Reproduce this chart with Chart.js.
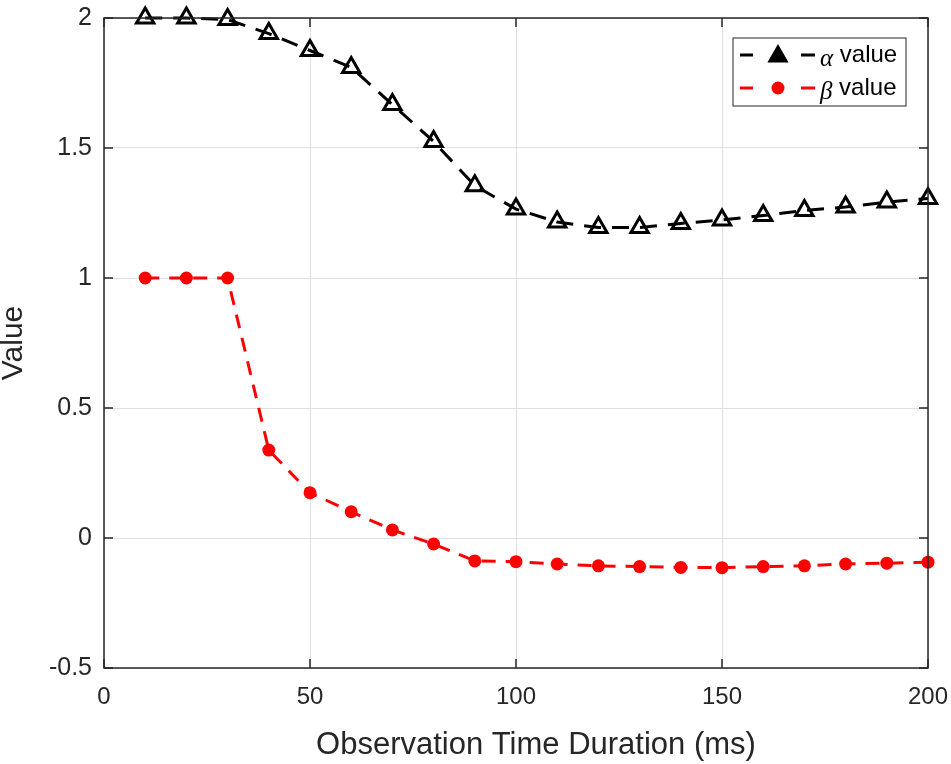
<!DOCTYPE html>
<html>
<head>
<meta charset="utf-8">
<script src="https://cdn.jsdelivr.net/npm/chart.js@4"></script>
<style>
  body { margin: 0; background: #fff; }
  #wrap { width: 951px; height: 764px; }
</style>
</head>
<body>
<div id="wrap"><canvas id="myChart" width="951" height="764"></canvas></div>
<script>
const durations = [10, 20, 30, 40, 50, 60, 70, 80, 90, 100, 110, 120, 130, 140, 150, 160, 170, 180, 190, 200];
const alphaValues = [2.0, 2.0, 1.994, 1.94, 1.875, 1.81, 1.667, 1.525, 1.355, 1.265, 1.215, 1.194, 1.194, 1.21, 1.223, 1.24, 1.26, 1.273, 1.292, 1.306];
const betaValues = [1.0, 1.0, 1.0, 0.338, 0.174, 0.101, 0.031, -0.023, -0.088, -0.091, -0.1, -0.107, -0.11, -0.113, -0.114, -0.11, -0.107, -0.1, -0.097, -0.093];
const xTicks = [0, 50, 100, 150, 200];
const yTicks = [-0.5, 0, 0.5, 1, 1.5, 2];
const xTitle = "Observation Time Duration (ms)";

const font = "'Liberation Sans', Arial, sans-serif";

const toPoints = (vals) => durations.map((d, i) => ({ x: d, y: vals[i] }));

// box, inward ticks, x title and legend drawn on top like in matlab
const framePlugin = {
  id: "frame",
  afterDatasetsDraw(chart) {
    const { ctx, chartArea: a, scales } = chart;
    ctx.save();
    ctx.strokeStyle = "#262626";
    ctx.lineWidth = 1.5;
    ctx.strokeRect(a.left, a.top, a.right - a.left, a.bottom - a.top);
    ctx.beginPath();
    xTicks.forEach((t) => {
      const px = scales.x.getPixelForValue(t);
      ctx.moveTo(px, a.bottom); ctx.lineTo(px, a.bottom - 9);
      ctx.moveTo(px, a.top); ctx.lineTo(px, a.top + 9);
    });
    yTicks.forEach((t) => {
      const py = scales.y.getPixelForValue(t);
      ctx.moveTo(a.left, py); ctx.lineTo(a.left + 9, py);
      ctx.moveTo(a.right, py); ctx.lineTo(a.right - 9, py);
    });
    ctx.stroke();

    ctx.fillStyle = "#262626";
    ctx.font = "31px " + font;
    ctx.textAlign = "center";
    ctx.textBaseline = "middle";
    ctx.fillText(xTitle, 536, 745);

    // legend
    const lx = 733, ly = 38, lw = 173, lh = 68;
    ctx.fillStyle = "#fff";
    ctx.fillRect(lx, ly, lw, lh);
    ctx.strokeStyle = "#262626";
    ctx.lineWidth = 1;
    ctx.strokeRect(lx, ly, lw, lh);
    const rows = [
      { y: 55, color: "#000", sym: "\u03b1", tri: true },
      { y: 88, color: "#f00", sym: "\u03b2", tri: false }
    ];
    rows.forEach((r) => {
      ctx.strokeStyle = r.color;
      ctx.lineWidth = 3;
      ctx.setLineDash([]);
      ctx.beginPath();
      ctx.moveTo(740, r.y); ctx.lineTo(753, r.y);
      ctx.moveTo(801, r.y); ctx.lineTo(815, r.y);
      ctx.stroke();
      if (r.tri) {
        ctx.beginPath();
        ctx.moveTo(778, r.y - 8);
        ctx.lineTo(786, r.y + 6);
        ctx.lineTo(770, r.y + 6);
        ctx.closePath();
        ctx.fillStyle = "#000";
        ctx.fill();
        ctx.stroke();
      } else {
        ctx.beginPath();
        ctx.arc(778, r.y, 6.5, 0, Math.PI * 2);
        ctx.fillStyle = "#f00";
        ctx.fill();
      }
      ctx.fillStyle = "#000";
      ctx.textBaseline = "middle";
      ctx.textAlign = "left";
      ctx.font = "italic 25px 'Liberation Serif', serif";
      ctx.fillText(r.sym, 820, r.y + 4);
      const w = ctx.measureText(r.sym).width;
      ctx.font = "24px " + font;
      ctx.fillText(" value", 820 + w, r.y);
    });
    ctx.restore();
  }
};

const ctx = document.getElementById("myChart").getContext("2d");

new Chart(ctx, {
  type: "line",
  data: {
    datasets: [
      {
        label: "\u03b1 value",
        data: toPoints(alphaValues),
        borderColor: "#000",
        borderWidth: 3,
        borderDash: [17, 11],
        pointStyle: "triangle",
        pointRadius: 10,
        pointBorderWidth: 3,
        pointBorderColor: "#000",
        pointBackgroundColor: "rgba(255,255,255,0)",
        tension: 0,
        clip: false
      },
      {
        label: "\u03b2 value",
        data: toPoints(betaValues),
        borderColor: "#f00",
        borderWidth: 3,
        borderDash: [14, 10],
        pointStyle: "circle",
        pointRadius: 6.5,
        pointBorderWidth: 0,
        pointBackgroundColor: "#f00",
        tension: 0,
        clip: false
      }
    ]
  },
  options: {
    responsive: false,
    animation: false,
    layout: { padding: { left: 0, top: 18, right: 23, bottom: 0 } },
    plugins: { legend: { display: false }, tooltip: { enabled: false } },
    scales: {
      x: {
        type: "linear",
        min: 0,
        max: 200,
        afterBuildTicks: (s) => { s.ticks = xTicks.map((v) => ({ value: v })); },
        afterFit: (s) => { s.height = 96; s.paddingLeft = 0; s.paddingRight = 0; },
        ticks: { color: "#262626", font: { family: font, size: 24 }, padding: 15, maxRotation: 0 },
        grid: { color: "#e0e0e0", lineWidth: 1, drawTicks: false },
        border: { display: false },
        title: { display: false }
      },
      y: {
        type: "linear",
        min: -0.5,
        max: 2,
        afterBuildTicks: (s) => { s.ticks = yTicks.map((v) => ({ value: v })); },
        afterFit: (s) => { s.width = 104; s.paddingTop = 0; s.paddingBottom = 0; },
        ticks: {
          color: "#262626",
          font: { family: font, size: 25 },
          padding: 12,
          callback: (v) => String(v)
        },
        grid: { color: "#e0e0e0", lineWidth: 1, drawTicks: false },
        border: { display: false },
        title: {
          display: true,
          text: "Value",
          color: "#262626",
          font: { family: font, size: 30 },
          padding: { top: -4, bottom: 0 }
        }
      }
    }
  },
  plugins: [framePlugin]
});
</script>
</body>
</html>
